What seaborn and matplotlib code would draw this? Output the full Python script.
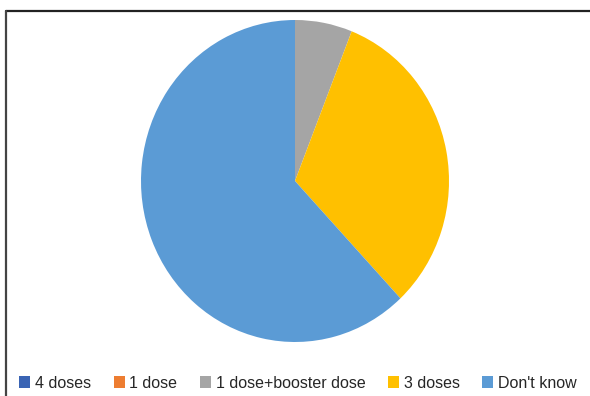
import matplotlib
matplotlib.use("Agg")
import matplotlib.pyplot as plt
import seaborn as sns
from matplotlib.lines import Line2D
from matplotlib.patches import Patch

categories = ["4 doses", "1 dose", "1 dose+booster dose", "3 doses", "Don't know"]
values = [0, 0, 6, 32, 62]
colors = ["#3A64B4", "#ED7D31", "#A5A5A5", "#FFC000", "#5B9BD5"]

sns.set_theme(style="white")
plt.rcParams['font.family'] = ['Liberation Sans', 'DejaVu Sans']

fig = plt.figure(figsize=(5.9, 3.96), dpi=100)
ax = fig.add_axes([0.0, 0.0, 1.0, 1.0])
W, H = 590, 396
cx, cy, rx, ry = 295, 181, 154, 161
ax.set_position([(cx - rx) / W, 1 - (cy + ry) / H, 2 * rx / W, 2 * ry / H])

ax.pie(values, colors=colors, startangle=90, counterclock=False,
       wedgeprops=dict(linewidth=0), radius=1.0)
ax.set_xlim(-1, 1)
ax.set_ylim(-1, 1)
ax.set_aspect("auto")
ax.axis("off")

# frame lines
fig.add_artist(Line2D([6 / W, 1.0], [1 - 10.5 / H, 1 - 10.5 / H], transform=fig.transFigure,
                      color="#222222", linewidth=1.6))
fig.add_artist(Line2D([6 / W, 6 / W], [0, 1 - 10.5 / H], transform=fig.transFigure,
                      color="#444444", linewidth=1.6))

handles = [Patch(facecolor=c, edgecolor="none") for c in colors]
fig.legend(handles, categories, loc="center", bbox_to_anchor=(0.505, 1 - 383 / H), ncol=5,
           frameon=False, fontsize=11.5, handlelength=0.7, handleheight=0.7,
           handletextpad=0.3, columnspacing=1.4)

fig.savefig("out.png", dpi=100)
